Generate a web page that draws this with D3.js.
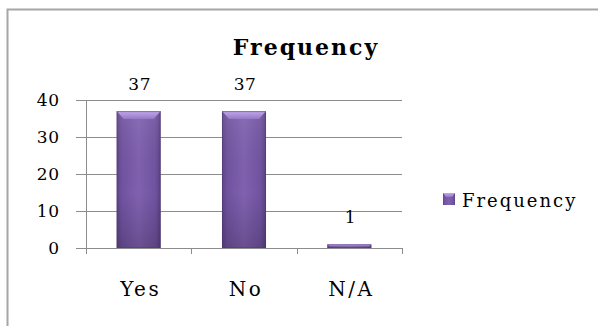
<!DOCTYPE html>
<html>
<head>
<meta charset="utf-8">
<script src="https://cdn.jsdelivr.net/npm/d3@7"></script>
<style>
  html, body { margin: 0; padding: 0; background: #fff; }
  svg { display: block; }
  text { font-family: "DejaVu Serif", serif; fill: #000; }
</style>
</head>
<body>
<svg id="chart" width="598" height="326"></svg>
<script>
// Survey answers and their counts
const categories = ["Yes", "No", "N/A"];
const frequency = [37, 37, 1];
const yTicks = [0, 10, 20, 30, 40];
const seriesName = "Frequency";

const svg = d3.select("#chart");
const W = 598, H = 326;

// chart area frame
svg.append("rect")
  .attr("x", 7.5).attr("y", 9.5)
  .attr("width", W + 20).attr("height", H + 20)
  .attr("fill", "#fff")
  .attr("stroke", "#a6a6a6").attr("stroke-width", 2);

const plot = { left: 86, right: 402, top: 100, bottom: 248 };

const x = d3.scaleBand()
  .domain(categories)
  .range([plot.left, plot.right])
  .paddingInner(0.582)
  .paddingOuter(0.291);

const y = d3.scaleLinear()
  .domain([0, 40])
  .range([plot.bottom, plot.top]);

const defs = svg.append("defs");

// body shading of the bars: darker sides, lighter middle
const gBody = defs.append("linearGradient").attr("id", "barBody")
  .attr("x1", 0).attr("x2", 1).attr("y1", 0).attr("y2", 0);
[["0%", "#5e4487"], ["12%", "#7053a0"], ["50%", "#8061b0"], ["88%", "#7053a0"], ["100%", "#5a4182"]]
  .forEach(([o, c]) => gBody.append("stop").attr("offset", o).attr("stop-color", c));

// vertical darkening toward the base
const gShade = defs.append("linearGradient").attr("id", "barShade")
  .attr("x1", 0).attr("x2", 0).attr("y1", 0).attr("y2", 1);
[["0%", "#ffffff", 0.08], ["60%", "#000000", 0.0], ["100%", "#000000", 0.18]]
  .forEach(([o, c, a]) => gShade.append("stop").attr("offset", o).attr("stop-color", c).attr("stop-opacity", a));

// bevelled top of the bars
const gBevel = defs.append("linearGradient").attr("id", "barBevel")
  .attr("x1", 0).attr("x2", 0).attr("y1", 0).attr("y2", 1);
[["0%", "#c3a8ec"], ["100%", "#9677c6"]]
  .forEach(([o, c]) => gBevel.append("stop").attr("offset", o).attr("stop-color", c));

// gridlines and value-axis tick marks
const grid = svg.append("g");
grid.selectAll("line.grid")
  .data(yTicks.filter(t => t > 0))
  .join("line")
  .attr("class", "grid")
  .attr("x1", plot.left - 10).attr("x2", plot.right)
  .attr("y1", d => Math.round(y(d)) + 0.5).attr("y2", d => Math.round(y(d)) + 0.5)
  .attr("stroke", "#8c8c8c").attr("stroke-width", 1);

// value axis
const yAxis = d3.axisLeft(y).tickValues(yTicks).tickSize(10).tickPadding(17);
const yG = svg.append("g")
  .attr("transform", `translate(${plot.left + 0.5},0)`)
  .call(yAxis);
yG.select(".domain").attr("stroke", "#8c8c8c").attr("d", `M0,${plot.top}V${plot.bottom}`);
yG.selectAll(".tick line").attr("stroke", "#8c8c8c");
yG.selectAll(".tick text")
  .attr("font-size", 17)
  .attr("letter-spacing", 0.5)
  .attr("fill", "#000");

// category axis with tick marks at slot boundaries
const xG = svg.append("g");
xG.append("line")
  .attr("x1", plot.left - 10).attr("x2", plot.right)
  .attr("y1", plot.bottom + 0.5).attr("y2", plot.bottom + 0.5)
  .attr("stroke", "#8c8c8c");
const step = x.step();
xG.selectAll("line.tick")
  .data(d3.range(categories.length + 1))
  .join("line")
  .attr("class", "tick")
  .attr("x1", i => Math.round(plot.left + i * step) + 0.5)
  .attr("x2", i => Math.round(plot.left + i * step) + 0.5)
  .attr("y1", plot.bottom).attr("y2", plot.bottom + 6)
  .attr("stroke", "#8c8c8c");
xG.selectAll("text")
  .data(categories)
  .join("text")
  .attr("x", d => x(d) + x.bandwidth() / 2 + 2)
  .attr("y", 296)
  .attr("text-anchor", "middle")
  .attr("font-size", 20)
  .attr("letter-spacing", 2.5)
  .text(d => d);

// bars
const data = categories.map((c, i) => ({ c, v: frequency[i] }));
const bars = svg.append("g").selectAll("g").data(data).join("g");
bars.append("rect")
  .attr("x", d => x(d.c)).attr("width", x.bandwidth())
  .attr("y", d => y(d.v)).attr("height", d => y(0) - y(d.v))
  .attr("fill", "url(#barBody)");
bars.append("rect")
  .attr("x", d => x(d.c)).attr("width", x.bandwidth())
  .attr("y", d => y(d.v)).attr("height", d => y(0) - y(d.v))
  .attr("fill", "url(#barShade)");
bars.append("path")
  .attr("d", d => {
    const x0 = x(d.c), x1 = x0 + x.bandwidth(), t = y(d.v);
    const h = Math.min(8, (y(0) - t) / 2), s = Math.min(7, h);
    return `M${x0},${t}H${x1}L${x1 - s},${t + h}H${x0 + s}Z`;
  })
  .attr("fill", "url(#barBevel)");
bars.append("rect")
  .attr("x", d => x(d.c) + 0.5).attr("width", x.bandwidth() - 1)
  .attr("y", d => y(d.v) + 0.5).attr("height", d => y(0) - y(d.v) - 1)
  .attr("fill", "none").attr("stroke", "#4e3873").attr("stroke-opacity", 0.5);

// value labels
bars.append("text")
  .attr("x", d => x(d.c) + x.bandwidth() / 2 + 1)
  .attr("y", d => y(d.v) - 21)
  .attr("text-anchor", "middle")
  .attr("font-size", 17)
  .attr("letter-spacing", 0.5)
  .text(d => d.v);

// title
svg.append("text")
  .attr("x", 306).attr("y", 55)
  .attr("text-anchor", "middle")
  .attr("font-size", 22)
  .attr("font-weight", "bold")
  .attr("letter-spacing", 2)
  .text(seriesName);

// legend
const lg = svg.append("g").attr("transform", "translate(443,193)");
lg.append("rect").attr("width", 12).attr("height", 12).attr("fill", "url(#barBody)");
lg.append("path").attr("d", "M0,0H12L9,4H3Z").attr("fill", "url(#barBevel)");
lg.append("text")
  .attr("x", 19).attr("y", 14)
  .attr("font-size", 18)
  .attr("letter-spacing", 2)
  .text(seriesName);
</script>
</body>
</html>
